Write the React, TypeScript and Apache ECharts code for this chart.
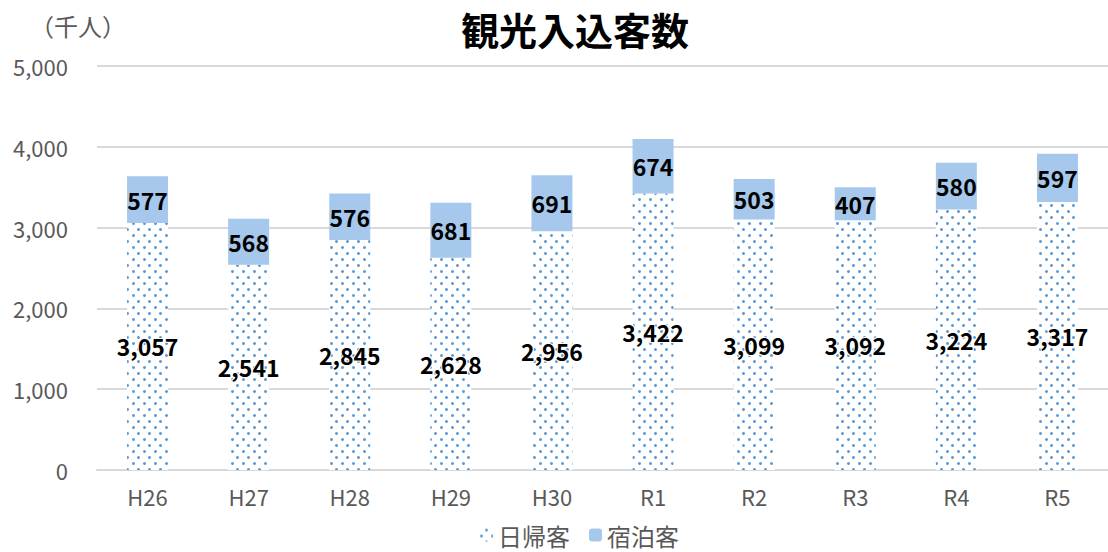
import React, { useEffect, useRef } from "react";
import * as echarts from "echarts";

const categories = ["H26", "H27", "H28", "H29", "H30", "R1", "R2", "R3", "R4", "R5"];
const dayTrip = [3057, 2541, 2845, 2628, 2956, 3422, 3099, 3092, 3224, 3317];
const overnight = [577, 568, 576, 681, 691, 674, 503, 407, 580, 597];
const yTicks = [0, 1000, 2000, 3000, 4000, 5000];
const seriesNames = ["日帰客", "宿泊客"];

const FONT = "'Noto Sans CJK JP', 'Noto Sans', sans-serif";
const fmt = (v: number) => v.toLocaleString("en-US");

export default function App() {
  const ref = useRef<HTMLDivElement>(null);
  useEffect(() => {
    document.body.style.margin = "0";
    const chart = echarts.init(ref.current!, null, { renderer: "svg" });
    chart.setOption({
      animation: false,
      backgroundColor: "#ffffff",
      textStyle: { fontFamily: FONT },
      graphic: [
        {
          type: "text",
          x: 575,
          y: 28,
          style: {
            text: "観光入込客数",
            font: `bold 38px ${FONT}`,
            fill: "#000000",
            align: "center",
            verticalAlign: "middle",
          },
        },
        {
          type: "text",
          x: 78,
          y: 25,
          style: {
            text: "（千人）",
            font: `24px ${FONT}`,
            fill: "#595959",
            align: "center",
            verticalAlign: "middle",
          },
        },
      ],
      legend: {
        left: 480,
        top: 523,
        padding: 0,
        itemWidth: 13,
        itemHeight: 13,
        itemGap: 19,
        data: seriesNames,
        textStyle: { fontSize: 24, lineHeight: 24, color: "#595959", fontFamily: FONT },
      },
      grid: { left: 97, top: 66, width: 1021, height: 404, containLabel: false },
      xAxis: {
        type: "category",
        data: categories,
        axisLine: { show: true, lineStyle: { color: "#d9d9d9", width: 2 } },
        axisTick: { show: false },
        axisLabel: { color: "#595959", fontSize: 22, margin: 15, fontFamily: FONT },
      },
      yAxis: {
        type: "value",
        min: yTicks[0],
        max: yTicks[yTicks.length - 1],
        interval: 1000,
        axisLine: { show: false },
        axisTick: { show: false },
        splitLine: { lineStyle: { color: "#d9d9d9", width: 2 } },
        axisLabel: {
          color: "#595959",
          fontSize: 22,
          margin: 29,
          fontFamily: FONT,
          formatter: (v: number) => fmt(v),
        },
      },
      series: [
        {
          name: seriesNames[0],
          type: "bar",
          stack: "total",
          barWidth: 41,
          data: dayTrip,
          itemStyle: {
            color: "#ffffff",
            decal: {
              symbol: "circle",
              symbolSize: 1,
              color: "#5b9bd5",
              backgroundColor: "#ffffff",
              dashArrayX: [[3, 8], [0, 5, 3, 3]],
              dashArrayY: [3, 3],
              rotation: 0,
            },
          },
          label: {
            show: true,
            position: "inside",
            color: "#000000",
            fontSize: 23,
            fontWeight: "bold",
            fontFamily: FONT,
            textBorderColor: "#ffffff",
            textBorderWidth: 2,
            formatter: (p: any) => fmt(p.value),
          },
          emphasis: { disabled: true },
        },
        {
          name: seriesNames[1],
          type: "bar",
          stack: "total",
          barWidth: 41,
          data: overnight,
          itemStyle: { color: "#a5c8ec" },
          label: {
            show: true,
            position: "inside",
            color: "#000000",
            fontSize: 23,
            fontWeight: "bold",
            fontFamily: FONT,
            formatter: (p: any) => fmt(p.value),
          },
          emphasis: { disabled: true },
        },
      ],
    });
    return () => chart.dispose();
  }, []);
  return <div ref={ref} style={{ width: 1108, height: 552 }} />;
}
